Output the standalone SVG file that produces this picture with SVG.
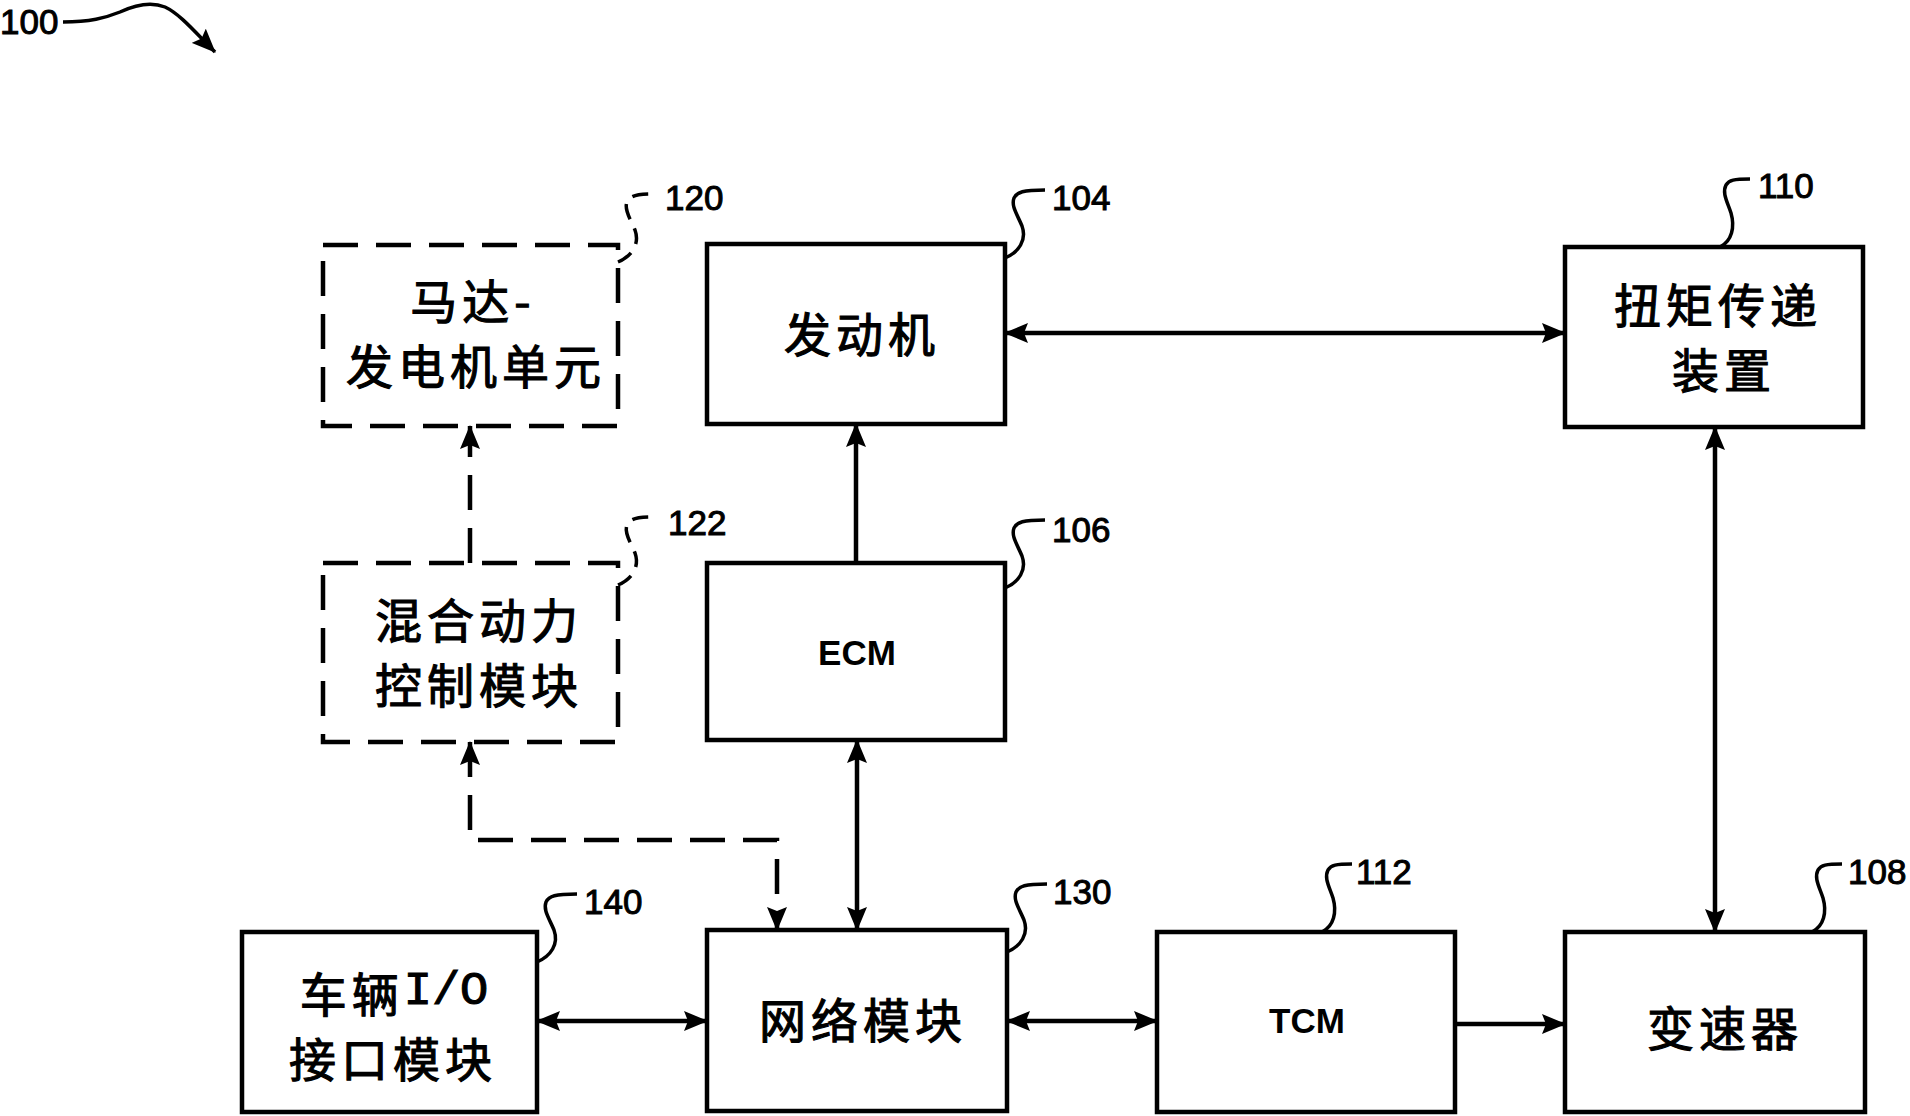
<svg xmlns="http://www.w3.org/2000/svg" width="1910" height="1116" viewBox="0 0 1910 1116">
<style>
.box{fill:#fff;stroke:#000;stroke-width:4.5}
.dbox{fill:none;stroke:#000;stroke-width:4.5;stroke-dasharray:35 18}
.conn{fill:none;stroke:#000;stroke-width:4.5}
.dconn{fill:none;stroke:#000;stroke-width:4.5;stroke-dasharray:35 18}
.lead{fill:none;stroke:#000;stroke-width:3.5}
.dlead{fill:none;stroke:#000;stroke-width:3.5;stroke-dasharray:16 10}
.cjk{font-family:"Noto Sans CJK SC",sans-serif;font-size:47px;letter-spacing:5px;text-anchor:middle;dominant-baseline:central;fill:#000;stroke:#000;stroke-width:1.1}
.mono{font-family:"Liberation Mono",monospace}
.lat{font-family:"Liberation Sans",Arial,sans-serif;font-size:35px;font-weight:bold;text-anchor:middle;dominant-baseline:central;fill:#000}
.ref{font-family:"Liberation Sans",Arial,sans-serif;font-size:35px;fill:#000;stroke:#000;stroke-width:1}
</style>
<defs>
<marker id="ah" viewBox="0 0 24 20" refX="23" refY="10" markerWidth="24" markerHeight="20" markerUnits="userSpaceOnUse" orient="auto-start-reverse">
<path d="M0,0 L24,10 L0,20 L4,10 z" fill="#000"/>
</marker>
</defs>

<g id="label-100">
<text class="ref" x="0" y="34">100</text>
<path class="lead" d="M63,22 C90,22 105,18 120,12 C135,5 150,1 165,7 C180,14 195,32 215,52" marker-end="url(#ah)"/>
</g>

<g id="node-120">
<rect class="dbox" x="323" y="245" width="295" height="181"/>
<text class="cjk" x="473" y="298">马达-</text>
<text class="cjk" x="476" y="363">发电机单元</text>
<path class="dlead" d="M618,262 c14,-6 22,-18 17,-32 c-5,-12 -11,-20 -8,-28 c3,-6 9,-8 25,-8"/>
<text class="ref" x="665" y="210">120</text>
</g>

<g id="node-104">
<rect class="box" x="707" y="244" width="298" height="180"/>
<text class="cjk" x="862" y="331">发动机</text>
<path class="lead" d="M1005,258 c14,-6 22,-18 17,-32 c-5,-12 -11,-20 -8,-28 c3,-6 9,-8 31,-8"/>
<text class="ref" x="1052" y="210">104</text>
</g>

<g id="node-110">
<rect class="box" x="1565" y="247" width="298" height="180"/>
<text class="cjk" x="1718" y="302">扭矩传递</text>
<text class="cjk" x="1724" y="367">装置</text>
<path class="lead" d="M1720,247 c12,-6 15,-20 11,-34 c-4,-12 -9,-20 -5,-28 c3,-5 8,-6 24,-6"/>
<text class="ref" x="1758" y="198">110</text>
</g>

<g id="node-122">
<rect class="dbox" x="323" y="563" width="295" height="179"/>
<text class="cjk" x="479" y="617">混合动力</text>
<text class="cjk" x="479" y="682">控制模块</text>
<path class="dlead" d="M618,585 c14,-6 22,-18 17,-32 c-5,-12 -11,-20 -8,-28 c3,-6 9,-8 25,-8"/>
<text class="ref" x="668" y="535">122</text>
</g>

<g id="node-106">
<rect class="box" x="707" y="563" width="298" height="177"/>
<text class="lat" x="857" y="652">ECM</text>
<path class="lead" d="M1005,588 c14,-6 22,-18 17,-32 c-5,-12 -11,-20 -8,-28 c3,-6 9,-8 31,-8"/>
<text class="ref" x="1052" y="542">106</text>
</g>

<g id="node-140">
<rect class="box" x="242" y="932" width="295" height="180"/>
<text class="cjk" x="394" y="991">车辆<tspan class="mono" letter-spacing="0">I/O</tspan></text>
<text class="cjk" x="393" y="1056">接口模块</text>
<path class="lead" d="M537,962 c14,-6 22,-18 17,-32 c-5,-12 -11,-20 -8,-28 c3,-6 9,-8 31,-8"/>
<text class="ref" x="584" y="914">140</text>
</g>

<g id="node-130">
<rect class="box" x="707" y="930" width="300" height="181"/>
<text class="cjk" x="863" y="1017">网络模块</text>
<path class="lead" d="M1007,952 c14,-6 22,-18 17,-32 c-5,-12 -11,-20 -8,-28 c3,-6 9,-8 31,-8"/>
<text class="ref" x="1053" y="904">130</text>
</g>

<g id="node-112">
<rect class="box" x="1157" y="932" width="298" height="180"/>
<text class="lat" x="1307" y="1020">TCM</text>
<path class="lead" d="M1322,932 c12,-6 15,-20 11,-34 c-4,-12 -9,-20 -5,-28 c3,-5 8,-6 24,-6"/>
<text class="ref" x="1356" y="884">112</text>
</g>

<g id="node-108">
<rect class="box" x="1565" y="932" width="300" height="180"/>
<text class="cjk" x="1725" y="1025">变速器</text>
<path class="lead" d="M1812,932 c12,-6 15,-20 11,-34 c-4,-12 -9,-20 -5,-28 c3,-5 8,-6 24,-6"/>
<text class="ref" x="1848" y="884">108</text>
</g>

<g id="connectors">
<path class="conn" d="M1005,333 L1565,333" marker-start="url(#ah)" marker-end="url(#ah)"/>
<path class="conn" d="M856,563 L856,424" marker-end="url(#ah)"/>
<path class="conn" d="M857,740 L857,930" marker-start="url(#ah)" marker-end="url(#ah)"/>
<path class="conn" d="M1715,427 L1715,932" marker-start="url(#ah)" marker-end="url(#ah)"/>
<path class="conn" d="M537,1021 L707,1021" marker-start="url(#ah)" marker-end="url(#ah)"/>
<path class="conn" d="M1007,1021 L1157,1021" marker-start="url(#ah)" marker-end="url(#ah)"/>
<path class="conn" d="M1455,1024 L1565,1024" marker-end="url(#ah)"/>
<path class="dconn" d="M470,563 L470,426" marker-end="url(#ah)"/>
<path class="dconn" d="M470,742 L470,840 L777,840 L777,930" marker-start="url(#ah)" marker-end="url(#ah)"/>
</g>
</svg>
